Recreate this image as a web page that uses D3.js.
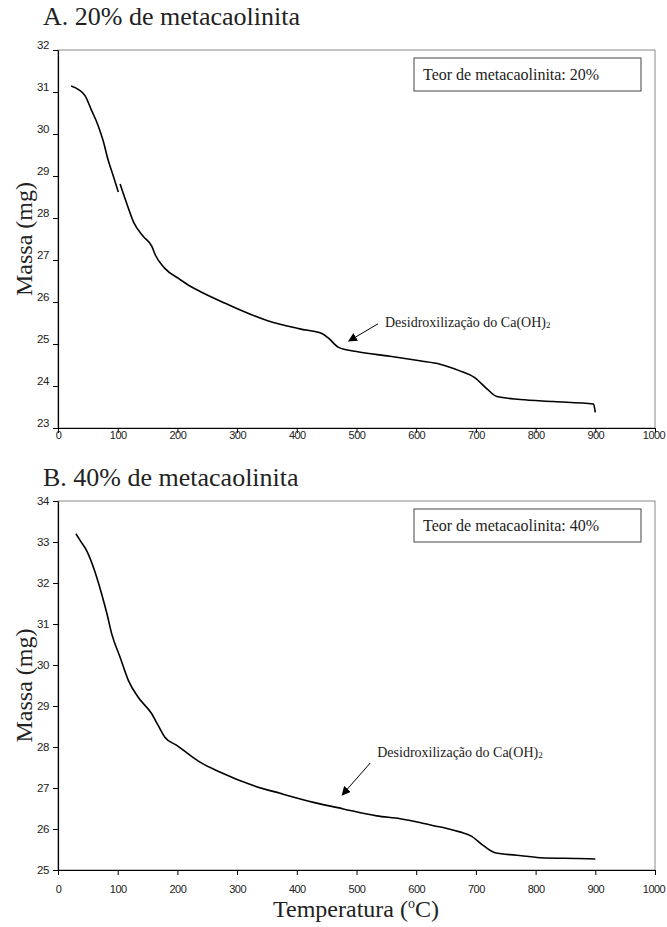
<!DOCTYPE html>
<html>
<head>
<meta charset="utf-8">
<script src="https://cdn.jsdelivr.net/npm/d3@7"></script>
<style>
  html, body { margin: 0; padding: 0; background: #fff; }
  svg { display: block; }
</style>
</head>
<body>
<script>
// ---------- DATA ----------
const xTicks = [0, 100, 200, 300, 400, 500, 600, 700, 800, 900, 1000];
const yTicksA = [23, 24, 25, 26, 27, 28, 29, 30, 31, 32];
const yTicksB = [25, 26, 27, 28, 29, 30, 31, 32, 33, 34];

const titleA = "A. 20% de metacaolinita";
const titleB = "B. 40% de metacaolinita";
const legendA = "Teor de metacaolinita: 20%";
const legendB = "Teor de metacaolinita: 40%";
const annotText = "Desidroxilização do Ca(OH)";
const annotSub = "2";
const yTitle = "Massa (mg)";
const xTitle = "Temperatura (";
const xTitleSup = "o";
const xTitleEnd = "C)";

// Curve A (20%): temperature (°C) and mass (mg); null = small break in the trace
const tempA = [22, 35, 45, 56, 67, 76, 84, 93, 101, 102, 104, 115, 127, 143, 157, 163, 179, 204, 221, 238,
               280, 350, 405, 442, 453, 470, 500, 556, 606, 640, 673, 698, 718, 735, 774, 830, 897, 900];
const massA = [31.14, 31.05, 30.92, 30.57, 30.21, 29.82, 29.38, 28.98, 28.62, null, 28.81, 28.35, 27.89, 27.56, 27.33, 27.12, 26.80, 26.54, 26.38, 26.25,
               25.97, 25.56, 25.36, 25.25, 25.14, 24.92, 24.82, 24.71, 24.60, 24.52, 24.36, 24.20, 23.94, 23.75, 23.68, 23.63, 23.57, 23.37];

// Curve B (40%)
const tempB = [30, 37, 49, 62, 73, 82, 90, 104, 118, 134, 157, 168, 179, 199, 221, 238, 271, 327, 372, 428,
               478, 534, 573, 606, 629, 650, 673, 693, 712, 732, 768, 808, 870, 900];
const massB = [33.20, 33.04, 32.76, 32.27, 31.74, 31.25, 30.76, 30.19, 29.62, 29.22, 28.81, 28.52, 28.24, 28.04, 27.80, 27.63, 27.39, 27.06, 26.87, 26.65,
               26.49, 26.32, 26.25, 26.16, 26.08, 26.02, 25.93, 25.82, 25.60, 25.42, 25.36, 25.30, 25.28, 25.27];

// Annotation anchors (data coords: arrow tip and arrow tail)
const annotA = { tipT: 487, tipM: 25.07, tailT: 536, tailM: 25.48 };
const annotB = { tipT: 476, tipM: 26.83, tailT: 523, tailM: 27.61 };

// ---------- DRAW ----------
const W = 667, H = 927;
const svg = d3.select("body").append("svg").attr("width", W).attr("height", H);

const defs = svg.append("defs");
defs.append("marker")
  .attr("id", "arrow")
  .attr("viewBox", "0 0 10 10")
  .attr("refX", 9).attr("refY", 5)
  .attr("markerWidth", 9).attr("markerHeight", 9)
  .attr("markerUnits", "userSpaceOnUse")
  .attr("orient", "auto")
  .append("path").attr("d", "M0,0 L10,5 L0,10 Z").attr("fill", "#000");

const serif = "'Liberation Serif', 'Times New Roman', serif";
const sans = "'Liberation Sans', Arial, sans-serif";

function panel(cfg) {
  const g = svg.append("g");
  const x = d3.scaleLinear().domain([0, 1000]).range([58, 655]);
  const y = d3.scaleLinear().domain([cfg.yTicks[0], cfg.yTicks[cfg.yTicks.length - 1]]).range([cfg.bot, cfg.top]);

  // title
  g.append("text").attr("x", 43).attr("y", cfg.titleY)
    .attr("font-family", serif).attr("font-size", 26).attr("fill", "#222")
    .text(cfg.title);

  // frame (gray)
  g.append("rect").attr("x", x(0)).attr("y", cfg.top)
    .attr("width", x(1000) - x(0)).attr("height", cfg.bot - cfg.top)
    .attr("fill", "none").attr("stroke", "#8a8a8a").attr("stroke-width", 1);

  // y axis
  const ya = g.append("g").attr("transform", `translate(${x(0)},0)`)
    .call(d3.axisLeft(y).tickValues(cfg.yTicks).tickFormat(d3.format("d")).tickSize(5).tickSizeOuter(0).tickPadding(4));
  ya.select(".domain").attr("stroke", "#000").attr("stroke-width", 1.2);
  ya.selectAll(".tick line").attr("stroke", "#000");
  ya.selectAll(".tick text").attr("font-family", sans).attr("font-size", 11.5)
    .attr("fill", "#222").attr("letter-spacing", "-0.4").attr("y", cfg.yLabelShift);

  // x axis
  const xa = g.append("g").attr("transform", `translate(0,${cfg.bot})`)
    .call(d3.axisBottom(x).tickValues(xTicks).tickFormat(d3.format("d")).tickSize(5).tickSizeOuter(0));
  xa.select(".domain").attr("stroke", "#000").attr("stroke-width", 1.2);
  xa.selectAll(".tick line").attr("stroke", "#000");
  xa.selectAll(".tick text").attr("font-family", sans).attr("font-size", 11)
    .attr("fill", "#222").attr("letter-spacing", "-0.5").attr("y", cfg.xLabelY)
    .attr("dx", d => d === 1000 ? -1.5 : 0);

  // y title
  const yc = (cfg.top + cfg.bot) / 2;
  g.append("text").attr("transform", `translate(32,${yc}) rotate(-90)`)
    .attr("text-anchor", "middle").attr("font-family", serif).attr("font-size", 24).attr("fill", "#222")
    .text(yTitle);

  // legend box
  g.append("rect").attr("x", 414).attr("y", cfg.top + 8).attr("width", 227).attr("height", 33)
    .attr("fill", "#fff").attr("stroke", "#444").attr("stroke-width", 1);
  g.append("text").attr("x", 423).attr("y", cfg.top + 30)
    .attr("font-family", serif).attr("font-size", 16).attr("fill", "#222")
    .text(cfg.legend);

  // curve
  const pts = cfg.temps.map((t, i) => ({ t, m: cfg.mass[i] }));
  const line = d3.line().defined(d => d.m != null).x(d => x(d.t)).y(d => y(d.m))
    .curve(d3.curveMonotoneX);
  g.append("path").datum(pts).attr("d", line)
    .attr("fill", "none").attr("stroke", "#000").attr("stroke-width", 1.6)
    .attr("stroke-linejoin", "round");

  // annotation
  const a = cfg.annot;
  g.append("line")
    .attr("x1", x(a.tailT)).attr("y1", y(a.tailM))
    .attr("x2", x(a.tipT)).attr("y2", y(a.tipM))
    .attr("stroke", "#000").attr("stroke-width", 1).attr("marker-end", "url(#arrow)");
  const at = g.append("text").attr("x", x(a.tailT) + 7).attr("y", y(a.tailM) + cfg.annotDy)
    .attr("font-family", serif).attr("font-size", 14).attr("fill", "#222");
  at.append("tspan").text(annotText);
  at.append("tspan").attr("font-size", 9).attr("dy", 1).text(annotSub);

  return { x, y };
}

panel({ title: titleA, titleY: 25, top: 50, bot: 428, yTicks: yTicksA, yLabelShift: -5,
        xLabelY: 3, legend: legendA, temps: tempA, mass: massA, annot: annotA, annotDy: 3 });
panel({ title: titleB, titleY: 486, top: 501, bot: 870, yTicks: yTicksB, yLabelShift: 0,
        xLabelY: 15, legend: legendB, temps: tempB, mass: massB, annot: annotB, annotDy: -6 });

// x title (bottom)
const xt = svg.append("text").attr("x", 356).attr("y", 917).attr("text-anchor", "middle")
  .attr("font-family", serif).attr("font-size", 24).attr("fill", "#222");
xt.append("tspan").text(xTitle);
xt.append("tspan").attr("font-size", 14).attr("dy", -9).text(xTitleSup);
xt.append("tspan").attr("dy", 9).text(xTitleEnd);
</script>
</body>
</html>
